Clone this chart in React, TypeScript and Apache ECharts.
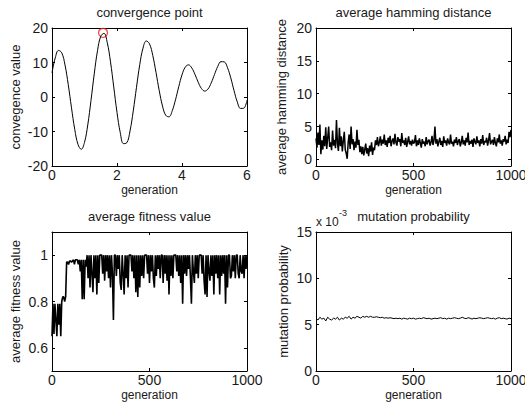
import React, { useEffect, useRef } from "react";
import * as echarts from "echarts";

// ---- data ----
const CONV_STEP = 0.1;
const convValues = [
  7.0, 11.34, 13.49, 12.81, 9.29, 3.57, -3.15, -9.4, -13.76, -15.15,
  -13.16, -8.11, -0.98, 6.73, 13.4, 17.6, 18.45, 15.77, 10.18, 2.91,
  -4.46, -10.33, -13.51, -13.28, -9.86, -4.04, 2.84, 9.38, 14.17, 16.23,
  15.41, 12.07, 7.13, 1.82, -2.63, -5.32, -5.73, -3.99, -0.81, 2.99,
  6.43, 8.66, 9.32, 8.43, 6.53, 4.25, 2.44, 1.71, 2.32, 4.11,
  6.53, 8.86, 10.24, 10.17, 8.49, 5.56, 1.89, -1.41, -3.31, -3.25,
  -0.91,
];
const convPoint = [1.57, 18.6];

const GEN_STEP = 5;
const hamming = [
  3.2, 1.8, 4.1, 2.2, 5.3, 0.8, 2.9, 1.5, 3.6, 2.0,
  4.9, 1.6, 3.3, 5.0, 1.9, 2.6, 1.4, 4.4, 2.1, 3.0,
  1.7, 6.0, 2.4, 1.3, 4.8, 2.0, 3.5, 1.2, 2.8, 4.2,
  1.5, 0.9, 0.1, 2.6, 3.8, 1.6, 5.0, 2.3, 3.1, 1.4,
  2.7, 1.8, 4.5, 2.2, 3.0, 1.1, 2.0, 0.8, 1.9, 0.6,
  1.5, 2.4, 0.9, 1.7, 0.5, 2.1, 1.2, 2.6, 0.7, 1.8,
  1.4, 2.9, 2.2, 3.4, 2.0,
  2.6, 3.5, 2.1, 3.0, 2.4, 3.8, 2.2, 2.9, 1.9, 3.3,
  2.5, 3.6, 2.0, 2.8, 3.2, 2.3, 3.9, 2.6, 2.1, 3.4,
  2.7, 3.1, 2.0, 4.0, 2.5, 2.9, 2.2, 3.3, 1.9, 2.7,
  3.5, 2.3, 2.8, 2.1, 3.0, 2.4, 2.6, 3.7, 2.0, 2.9,
  2.2, 3.2, 2.5, 1.8, 3.1, 2.4, 2.7, 2.0, 3.4, 2.3,
  2.8, 3.0, 2.1, 2.6, 3.6, 2.2, 2.9, 5.0, 2.4, 3.1,
  2.0, 2.7, 3.3, 2.2, 2.8, 1.9, 3.5, 2.5, 2.9, 2.1,
  3.2, 2.6, 2.3, 3.8, 2.4, 2.7, 2.0, 3.0, 2.5, 3.4,
  2.2, 2.8, 3.1, 2.0, 2.6, 3.6, 2.3, 2.9, 2.1, 3.3,
  2.6, 4.1, 2.2, 2.8, 2.4, 3.0, 1.9, 3.2, 2.7, 2.3,
  3.5, 2.5, 2.9, 2.0, 3.1, 2.4, 3.7, 2.2, 2.8, 2.6,
  3.3, 2.1, 2.9, 4.0, 2.3, 2.7, 3.0, 2.2, 3.4, 2.5,
  2.0, 3.2, 2.6, 3.8, 2.4, 2.9, 2.1, 3.1, 2.7, 3.6,
  2.3, 3.0, 2.5, 4.2, 3.4, 4.5,
];

const fitness = [
  0.65, 0.79, 0.66, 0.79, 0.72, 0.65, 0.79, 0.7, 0.79, 0.65,
  0.8, 0.82, 0.82, 0.8, 0.82, 0.97, 0.97, 0.96, 0.975, 0.975,
  0.97, 0.975, 0.98, 0.96, 0.98, 0.98, 0.98, 0.96, 0.98, 0.93,
  0.98, 0.81, 0.98, 0.81, 0.98, 0.95,
  1.0, 0.9, 1.0, 0.86, 1.0, 0.92, 0.84, 1.0, 0.9, 1.0,
  0.83, 1.0, 0.88, 1.0, 1.0, 1.0, 0.92, 1.0, 0.89, 1.0,
  0.93, 1.0, 0.9, 1.0, 0.86, 1.0, 0.92, 0.72, 1.0, 1.0,
  0.91, 1.0, 0.94, 1.0, 0.88, 0.85, 1.0, 0.92, 0.83, 1.0,
  0.9, 1.0, 0.86, 1.0, 1.0, 1.0, 0.93, 1.0, 0.9, 1.0,
  0.84, 1.0, 0.82, 1.0, 0.86, 1.0, 0.91, 1.0, 0.9, 1.0,
  1.0, 1.0, 0.92, 1.0, 0.88, 1.0, 0.93, 1.0, 0.9, 0.86,
  1.0, 0.91, 1.0, 0.94, 1.0, 0.9, 1.0, 1.0, 0.88, 1.0,
  0.92, 1.0, 0.89, 1.0, 0.83, 1.0, 0.91, 1.0, 0.9, 1.0,
  1.0, 1.0, 0.93, 1.0, 0.91, 1.0, 0.88, 1.0, 0.79, 1.0,
  0.92, 1.0, 0.91, 1.0, 0.94, 1.0, 0.9, 0.79, 1.0, 0.93,
  0.88, 1.0, 0.92, 1.0, 0.9, 1.0, 1.0, 1.0, 0.92, 1.0,
  0.89, 0.83, 1.0, 0.82, 1.0, 0.93, 0.89, 1.0, 0.91, 1.0,
  0.83, 1.0, 0.92, 1.0, 0.9, 1.0, 0.83, 1.0, 0.91, 1.0,
  0.92, 1.0, 0.79, 1.0, 0.86, 1.0, 1.0, 0.9, 0.91, 1.0,
  0.93, 1.0, 0.9, 1.0, 1.0, 0.92, 0.9, 1.0, 0.93, 0.92,
  1.0, 0.9, 1.0, 0.94, 1.0,
];

const MUT_STEP = 10;
// mutation probability, in units of 1e-3
const mutation = [
  5.7, 5.5, 5.8, 5.6, 5.7, 5.4, 5.8, 5.6, 5.5, 5.7,
  5.6, 5.8, 5.5, 5.7, 5.6, 5.8, 5.7, 5.9, 5.6, 5.8,
  5.7, 5.9, 5.8, 5.7, 5.9, 5.8, 5.9, 5.8, 5.9, 5.8,
  5.8,
  5.85, 5.8, 5.75, 5.8, 5.7, 5.75, 5.7, 5.75, 5.7, 5.65,
  5.7, 5.65, 5.7, 5.6, 5.7, 5.65, 5.6, 5.7, 5.65, 5.7,
  5.6, 5.65, 5.7, 5.65, 5.75, 5.7, 5.65, 5.7, 5.6, 5.65,
  5.7, 5.65, 5.7, 5.75, 5.65, 5.7, 5.6, 5.7, 5.65, 5.7,
  5.75, 5.7, 5.65, 5.7, 5.8, 5.7, 5.65, 5.75, 5.7, 5.6,
  5.7, 5.65, 5.7, 5.75, 5.7, 5.65, 5.7, 5.75, 5.7, 5.65,
  5.7, 5.6, 5.7, 5.75, 5.65, 5.7, 5.65, 5.6, 5.7, 5.65,
];

const titles = [
  "convergence point",
  "average hamming distance",
  "average fitness value",
  "mutation probability",
];
const yNames = [
  "convegence value",
  "average hamming distance",
  "average fitness value",
  "mutation probability",
];
const xName = "generation";

// ---- layout ----
const GRIDS = [
  { left: 52, top: 28, width: 195, height: 138 },
  { left: 316, top: 28, width: 195, height: 138 },
  { left: 52, top: 232, width: 195, height: 139 },
  { left: 316, top: 232, width: 195, height: 139 },
];
const X_SCALES = [
  { min: 0, max: 6, ticks: [0, 2, 4, 6] },
  { min: 0, max: 1000, ticks: [0, 500, 1000] },
  { min: 0, max: 1000, ticks: [0, 500, 1000] },
  { min: 0, max: 1000, ticks: [0, 500, 1000] },
];
const Y_SCALES = [
  { min: -20, max: 20, ticks: [-20, -10, 0, 10, 20] },
  { min: -1, max: 20, ticks: [0, 5, 10, 15, 20] },
  { min: 0.5, max: 1.1, ticks: [0.6, 0.8, 1] },
  { min: 0, max: 15, ticks: [0, 5, 10, 15] },
];
const LINE_WIDTHS = [1, 1.5, 1.6, 1];
// horizontal centre of each rotated y-axis name
const Y_NAME_X = [15, 281, 15, 283];

const FONT = "'Liberation Sans', Arial, Helvetica, sans-serif";
const TXT = "#1a1a1a";

function toPairs(values: number[], step: number) {
  return values.map((v, i) => [Number((i * step).toFixed(4)), v]);
}

const fmt = (v: number) => String(Number(v.toFixed(4)));

function buildOption() {
  const xAxis: any[] = [];
  const yAxis: any[] = [];
  GRIDS.forEach((_, i) => {
    const xs = X_SCALES[i];
    const ys = Y_SCALES[i];
    const common = {
      type: "value",
      gridIndex: i,
      splitLine: { show: false },
      axisLine: { show: true, onZero: false, lineStyle: { color: "#000", width: 1 } },
    };
    xAxis.push({
      ...common,
      position: "bottom",
      min: xs.min,
      max: xs.max,
      axisTick: { show: true, inside: true, length: 3, customValues: xs.ticks, lineStyle: { color: "#000" } },
      axisLabel: { show: true, customValues: xs.ticks, formatter: fmt, color: TXT, fontSize: 14, fontFamily: FONT, margin: 2 },
      name: xName,
      nameLocation: "middle",
      nameGap: 18,
      nameTextStyle: { color: TXT, fontSize: 12, fontFamily: FONT },
    });
    xAxis.push({
      ...common,
      position: "top",
      min: xs.min,
      max: xs.max,
      axisTick: { show: true, inside: true, length: 3, customValues: xs.ticks, lineStyle: { color: "#000" } },
      axisLabel: { show: false },
    });
    yAxis.push({
      ...common,
      position: "left",
      min: ys.min,
      max: ys.max,
      axisTick: { show: true, inside: true, length: 3, customValues: ys.ticks, lineStyle: { color: "#000" } },
      axisLabel: { show: true, customValues: ys.ticks, formatter: fmt, color: TXT, fontSize: 14, fontFamily: FONT, margin: 4 },
    });
    yAxis.push({
      ...common,
      position: "right",
      min: ys.min,
      max: ys.max,
      axisTick: { show: true, inside: true, length: 3, customValues: ys.ticks, lineStyle: { color: "#000" } },
      axisLabel: { show: false },
    });
  });

  const lineSeries = (idx: number, data: number[][], smooth: any = false) => ({
    type: "line",
    xAxisIndex: idx * 2,
    yAxisIndex: idx * 2,
    data,
    smooth,
    showSymbol: false,
    symbol: "none",
    lineStyle: { color: "#000", width: LINE_WIDTHS[idx] },
    silent: true,
  });

  const series: any[] = [
    lineSeries(0, toPairs(convValues, CONV_STEP), 0.4),
    {
      type: "scatter",
      xAxisIndex: 0,
      yAxisIndex: 0,
      data: [convPoint],
      symbol: "circle",
      symbolSize: 9,
      itemStyle: { color: "rgba(0,0,0,0)", borderColor: "#e8201a", borderWidth: 1.3 },
      silent: true,
    },
    lineSeries(1, toPairs(hamming, GEN_STEP)),
    lineSeries(2, toPairs(fitness, GEN_STEP)),
    lineSeries(3, toPairs(mutation, MUT_STEP)),
  ];

  const title = GRIDS.map((g, i) => ({
    text: titles[i],
    left: g.left + g.width / 2,
    top: i < 2 ? 6 : 210,
    textAlign: "center",
    padding: 0,
    textStyle: { color: TXT, fontSize: 13, fontWeight: "normal", fontFamily: FONT },
  }));

  const graphic: any[] = [
    {
      type: "text",
      x: 316,
      y: 216,
      style: { text: "x 10", fill: TXT, font: `12px ${FONT}` },
      silent: true,
    },
    {
      type: "text",
      x: 339,
      y: 208,
      style: { text: "-3", fill: TXT, font: `9px ${FONT}` },
      silent: true,
    },
    ...GRIDS.map((g, i) => ({
      type: "text",
      x: Y_NAME_X[i],
      y: g.top + g.height / 2,
      rotation: Math.PI / 2,
      style: {
        text: yNames[i],
        fill: TXT,
        font: `13px ${FONT}`,
        textAlign: "center",
        textVerticalAlign: "middle",
      },
      silent: true,
    })),
  ];

  return {
    animation: false,
    backgroundColor: "#fff",
    grid: GRIDS.map((g) => ({ ...g, containLabel: false, outerBoundsMode: "none" })),
    title,
    xAxis,
    yAxis,
    series,
    graphic,
  };
}

export default function App() {
  const ref = useRef<HTMLDivElement>(null);
  useEffect(() => {
    document.body.style.margin = "0";
    if (!ref.current) return;
    const chart = echarts.init(ref.current, undefined, { renderer: "svg" });
    chart.setOption(buildOption() as any);
    return () => chart.dispose();
  }, []);
  return <div ref={ref} style={{ width: 525, height: 411 }} />;
}
